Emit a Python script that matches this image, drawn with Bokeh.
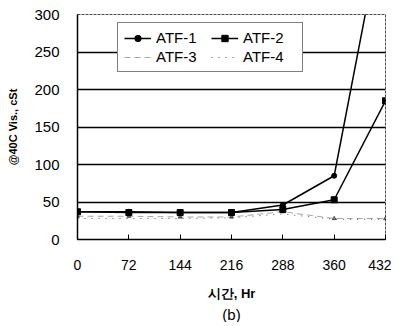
from bokeh.plotting import figure
from bokeh.embed import file_html
from bokeh.resources import INLINE
from bokeh.models import Legend, LegendItem, FixedTicker, Title, Range1d

hours = [0, 72, 144, 216, 288, 360, 432]
atf1 = [37, 37, 36, 36, 46, 85, 440]
atf2 = [37, 36, 36, 36, 40, 53, 185]
atf3 = [31, 31, 30, 30, 37, 28, 28]
atf4 = [28, 28, 28, 29, 34, 27, 27]
y_ticks = [0, 50, 100, 150, 200, 250, 300]

FONT = "Liberation Sans"

p = figure(frame_width=308, frame_height=225, output_backend="svg", toolbar_location=None,
           x_range=Range1d(0, 432), y_range=Range1d(0, 300),
           min_border_left=77, min_border_right=6, min_border_top=14, min_border_bottom=10)

p.xaxis.ticker = FixedTicker(ticks=hours)
p.yaxis.ticker = FixedTicker(ticks=y_ticks)
p.xgrid.visible = False
p.ygrid.ticker = FixedTicker(ticks=[50, 100, 150, 200, 250])
p.ygrid.grid_line_color = "black"
p.ygrid.grid_line_width = 1.5

for ax in (p.xaxis[0], p.yaxis[0]):
    ax.axis_line_color = "black"
    ax.axis_line_width = 1.5
    ax.major_label_text_font = FONT
    ax.major_label_text_color = "black"
    ax.minor_tick_line_color = None
    ax.axis_label_text_font = FONT
    ax.axis_label_text_font_style = "bold"
    ax.axis_label_text_color = "black"

p.xaxis.major_tick_in = 5
p.xaxis.major_tick_out = 0
p.xaxis.major_tick_line_color = "black"
p.xaxis.major_label_standoff = 20
p.xaxis.major_label_text_font_size = "14px"
p.xaxis.axis_label = "시간, Hr"
p.xaxis.axis_label_text_font_size = "13px"
p.xaxis.axis_label_standoff = 13

p.yaxis.major_tick_in = 0
p.yaxis.major_tick_out = 0
p.yaxis.major_label_standoff = 18
p.yaxis.major_label_text_font_size = "15px"
p.yaxis.axis_label = "@40C Vis., cSt"
p.yaxis.axis_label_text_font_size = "11px"
p.yaxis.axis_label_standoff = 12

p.outline_line_color = "black"
p.outline_line_width = 1
p.outline_line_dash = "3 1"
p.outline_line_alpha = 0.7

r1 = p.line(hours, atf1, line_color="black", line_width=1.5)
m1 = p.scatter(hours, atf1, marker="circle", size=5, color="black")
r2 = p.line(hours, atf2, line_color="black", line_width=1.5)
m2 = p.scatter(hours, atf2, marker="square", size=6, color="black")
r3 = p.line(hours, atf3, line_color="black", line_width=1, line_dash="6 4", line_alpha=0.35)
m3 = p.scatter(hours, atf3, marker="triangle", size=4, color="black", alpha=0.5)
r4 = p.line(hours, atf4, line_color="black", line_width=1, line_dash="1 6", line_alpha=0.7)

legend = Legend(items=[
    LegendItem(label="ATF-1", renderers=[r1, m1]),
    LegendItem(label="ATF-3", renderers=[r3]),
    LegendItem(label="ATF-2", renderers=[r2, m2]),
    LegendItem(label="ATF-4", renderers=[r4]),
], location=(40, 167), ncols=2)
legend.label_text_font = FONT
legend.label_text_font_size = "15px"
legend.label_text_color = "black"
legend.border_line_color = "black"
legend.border_line_width = 1.5
legend.background_fill_alpha = 1
legend.glyph_width = 27
legend.glyph_height = 16
legend.label_standoff = 5
legend.label_width = 53
legend.spacing = 2
legend.padding = 6
legend.margin = 0
p.add_layout(legend, "center")

t = Title(text="(b)", align="center", text_font=FONT, text_font_size="15px",
          text_font_style="normal", text_color="black", standoff=0, offset=0)
p.add_layout(t, "below")

open("out.html", "w").write(file_html(p, INLINE))
